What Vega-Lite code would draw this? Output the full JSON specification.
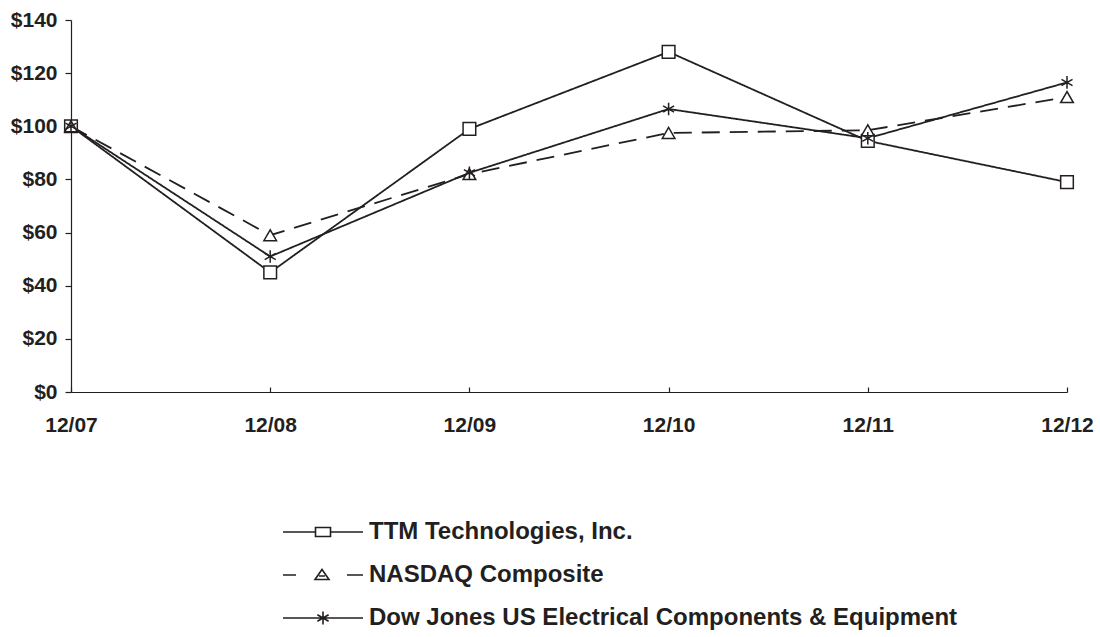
{
  "$schema": "https://vega.github.io/schema/vega-lite/v6.json",
  "autosize": "none",
  "width": 996,
  "height": 372,
  "padding": {"left": 71, "top": 20, "right": 33, "bottom": 245},
  "background": "white",
  "config": {
    "view": {"stroke": null},
    "font": "Liberation Sans",
    "axis": {"labelFont": "Liberation Sans", "labelFontWeight": "bold", "labelColor": "#231f20", "domainColor": "#231f20", "tickColor": "#231f20", "grid": false, "title": null}
  },
  "data": {
    "values": [
      {"period": "12/07", "series": "TTM Technologies, Inc.", "value": 100},
      {"period": "12/08", "series": "TTM Technologies, Inc.", "value": 45},
      {"period": "12/09", "series": "TTM Technologies, Inc.", "value": 99},
      {"period": "12/10", "series": "TTM Technologies, Inc.", "value": 128},
      {"period": "12/11", "series": "TTM Technologies, Inc.", "value": 94.5},
      {"period": "12/12", "series": "TTM Technologies, Inc.", "value": 79},
      {"period": "12/07", "series": "NASDAQ Composite", "value": 100},
      {"period": "12/08", "series": "NASDAQ Composite", "value": 59},
      {"period": "12/09", "series": "NASDAQ Composite", "value": 82},
      {"period": "12/10", "series": "NASDAQ Composite", "value": 97.5},
      {"period": "12/11", "series": "NASDAQ Composite", "value": 98.5},
      {"period": "12/12", "series": "NASDAQ Composite", "value": 111},
      {"period": "12/07", "series": "Dow Jones US Electrical Components & Equipment", "value": 100},
      {"period": "12/08", "series": "Dow Jones US Electrical Components & Equipment", "value": 51},
      {"period": "12/09", "series": "Dow Jones US Electrical Components & Equipment", "value": 82.5},
      {"period": "12/10", "series": "Dow Jones US Electrical Components & Equipment", "value": 106.5},
      {"period": "12/11", "series": "Dow Jones US Electrical Components & Equipment", "value": 95.5},
      {"period": "12/12", "series": "Dow Jones US Electrical Components & Equipment", "value": 116.5}
    ]
  },
  "encoding": {
    "x": {
      "field": "period", "type": "ordinal",
      "scale": {"type": "point", "padding": 0},
      "axis": {"labelAngle": 0, "labelFontSize": 21, "tickSize": -5, "labelPadding": 27, "domainWidth": 1.2, "tickWidth": 1.2}
    },
    "y": {
      "field": "value", "type": "quantitative",
      "scale": {"domain": [0, 140]},
      "axis": {"values": [0, 20, 40, 60, 80, 100, 120, 140], "labelExpr": "'$' + datum.value", "labelFontSize": 21, "tickSize": 6, "labelPadding": 8, "domainWidth": 1.2, "tickWidth": 1.2}
    }
  },
  "layer": [
    {
      "mark": {"type": "line", "color": "#231f20", "strokeWidth": 1.8},
      "encoding": {
        "detail": {"field": "series"},
        "strokeDash": {
          "field": "series", "type": "nominal",
          "scale": {"domain": ["TTM Technologies, Inc.", "NASDAQ Composite", "Dow Jones US Electrical Components & Equipment"], "range": [[1, 0], [18, 10], [1, 0]]},
          "legend": null
        }
      }
    },
    {
      "mark": {"type": "point", "filled": true, "fill": "white", "stroke": "#231f20", "size": 160, "opacity": 1},
      "encoding": {
        "shape": {
          "field": "series", "type": "nominal",
          "scale": {"domain": ["TTM Technologies, Inc.", "NASDAQ Composite", "Dow Jones US Electrical Components & Equipment"], "range": ["square", "triangle-up", "M0,-1V1M-0.87,-0.5L0.87,0.5M-0.87,0.5L0.87,-0.5"]},
          "legend": null
        },
        "strokeWidth": {
          "field": "series", "type": "nominal",
          "scale": {"domain": ["TTM Technologies, Inc.", "NASDAQ Composite", "Dow Jones US Electrical Components & Equipment"], "range": [1.5, 1.5, 3.2]},
          "legend": null
        }
      }
    },
    {
      "mark": {"type": "point", "opacity": 0, "filled": false},
      "encoding": {
        "color": {
          "field": "series", "type": "nominal",
          "scale": {"domain": ["TTM Technologies, Inc.", "NASDAQ Composite", "Dow Jones US Electrical Components & Equipment"], "range": ["#231f20", "#231f20", "#231f20"]},
          "legend": null
        },
        "shape": {
          "field": "series", "type": "nominal",
          "scale": {"domain": ["TTM Technologies, Inc.", "NASDAQ Composite", "Dow Jones US Electrical Components & Equipment"], "range": [
            "M-7,0H-3.75M-2.25,0H1M-3.75,-0.45H-2.25V0.45H-3.75Z",
            "M-7,0H-5.7M-0.6,0H1M-3.1,-0.55L-2.4,0.45H-3.8ZM-3.4,0.1H-2.8",
            "M-7,0H1M-3,-0.65V0.65M-3.56,-0.33L-2.44,0.33M-3.56,0.33L-2.44,-0.33"
          ]},
          "legend": {
            "title": null,
            "orient": "none",
            "legendX": 270,
            "legendY": 500,
            "direction": "vertical",
            "symbolSize": 400,
            "symbolStrokeWidth": 1.6,
            "symbolStrokeColor": "#231f20",
            "symbolFillColor": "transparent",
            "symbolOpacity": 1,
            "labelFont": "Liberation Sans",
            "labelFontWeight": "bold",
            "labelFontSize": 24,
            "labelColor": "#231f20",
            "labelOffset": 4,
            "labelLimit": 800,
            "rowPadding": 19
          }
        }
      }
    }
  ],
  "resolve": {"scale": {"shape": "independent"}, "legend": {"shape": "independent"}}
}
